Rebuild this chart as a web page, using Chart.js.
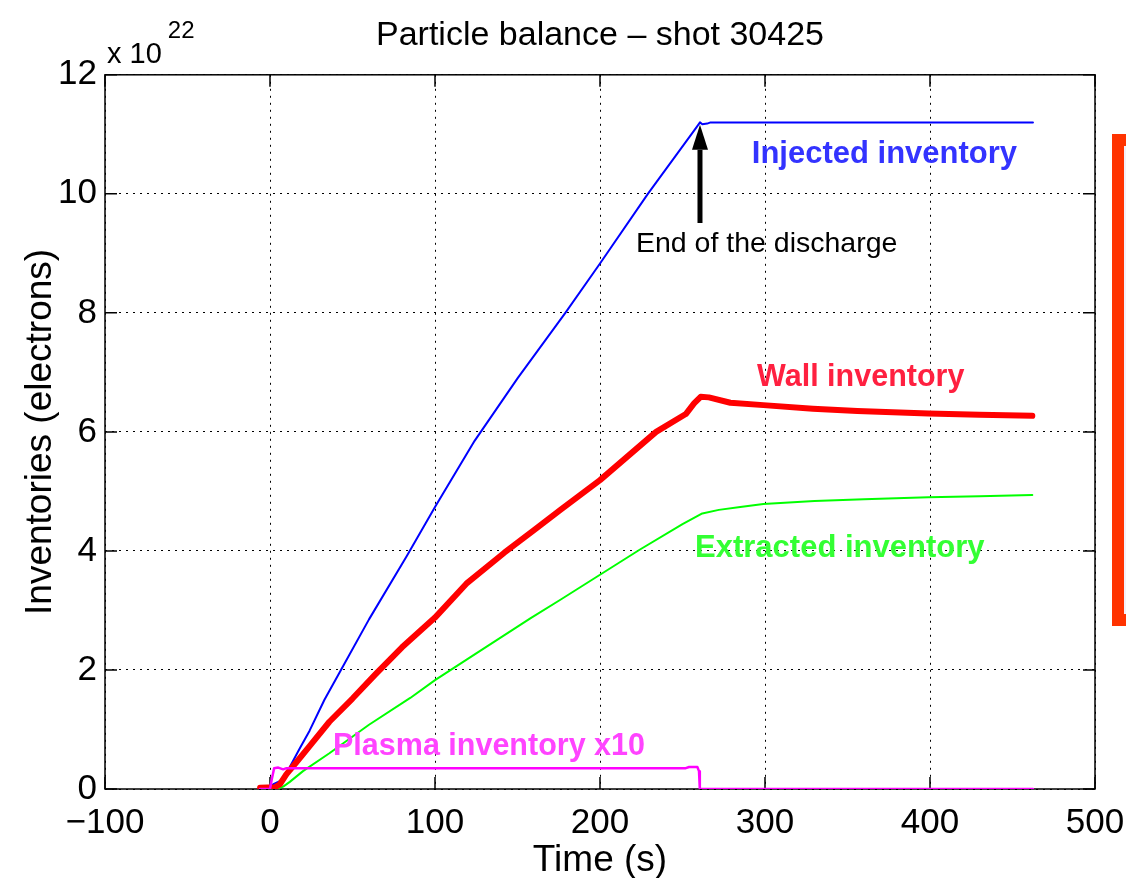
<!DOCTYPE html>
<html><head><meta charset="utf-8">
<script src="https://cdn.jsdelivr.net/npm/chart.js@4.4.1/dist/chart.umd.min.js"></script>
<style>html,body{margin:0;padding:0;background:#fff;}#wrap{width:1126px;height:878px;position:relative;}</style>
</head><body><div id="wrap"><canvas id="c" width="1126" height="878"></canvas></div>
<script>
// ---- data (time in s, inventories in 1e22 electrons) ----
const xTicks = [-100, 0, 100, 200, 300, 400, 500];
const yTicks = [0, 2, 4, 6, 8, 10, 12];

const injectedT = [-6, -1, 2, 6, 9, 12, 18, 24, 33, 43, 60, 83, 100, 124, 150, 179, 200, 229, 258, 260.6, 262, 265, 267, 462.4];
const injectedV = [0, 0, 0.08, 0.13, 0.2, 0.37, 0.68, 0.98, 1.5, 2.0, 2.85, 3.92, 4.74, 5.85, 6.9, 8.0, 8.83, 10.0, 11.1, 11.2, 11.17, 11.18, 11.2, 11.2];

const wallT = [-6, 3, 6, 10, 16, 24, 36, 50, 64, 80, 100, 119, 142, 160, 176, 200, 234, 252, 257, 261, 266, 279, 299, 329, 356, 399, 430, 462];
const wallV = [0.02, 0.03, 0.08, 0.25, 0.45, 0.72, 1.13, 1.52, 1.93, 2.38, 2.88, 3.45, 3.97, 4.35, 4.69, 5.19, 6.0, 6.3, 6.48, 6.59, 6.58, 6.49, 6.45, 6.39, 6.35, 6.31, 6.29, 6.27];

const extractedT = [4, 8, 12, 20, 36, 60, 85, 100, 125, 158, 176, 200, 224, 250, 262, 272, 285, 299, 330, 360, 399, 430, 462];
const extractedV = [0, 0.04, 0.12, 0.3, 0.6, 1.08, 1.53, 1.83, 2.28, 2.87, 3.18, 3.6, 4.02, 4.45, 4.63, 4.69, 4.74, 4.79, 4.84, 4.87, 4.9, 4.92, 4.94];

const plasmaT = [-6, 0, 1, 2.5, 5, 8, 10, 20, 100, 200, 252, 254, 259, 260, 260.5, 462.4];
const plasmaV = [0, 0, 0.15, 0.35, 0.36, 0.33, 0.35, 0.35, 0.35, 0.35, 0.35, 0.37, 0.37, 0.3, 0, 0];

const FONT = "'Liberation Sans', Arial, Helvetica, sans-serif";

const pts = (ts, vs) => ts.map((t, i) => ({x: t, y: vs[i]}));

const labels = [
  {text: 'Injected inventory', t: 292, v: 10.66, color: '#3333ff', size: 31, bold: true},
  {text: 'End of the discharge', t: 221.8, v: 9.16, color: '#000000', size: 28.5, bold: false},
  {text: 'Wall inventory', t: 295.2, v: 6.92, color: '#ff2040', size: 30.5, bold: true},
  {text: 'Extracted inventory', t: 257.6, v: 4.05, color: '#33ff33', size: 31, bold: true},
  {text: 'Plasma inventory x10', t: 38.2, v: 0.72, color: '#ff44ff', size: 30.5, bold: true}
];

const overlay = {
  id: 'overlay',
  beforeDatasetsDraw(chart) {
    const {ctx, chartArea: a, scales: {x, y}} = chart;
    ctx.save();
    ctx.strokeStyle = '#000';
    ctx.lineWidth = 1.5;
    ctx.setLineDash([]);
    ctx.strokeRect(a.left, a.top, a.right - a.left, a.bottom - a.top);
    ctx.beginPath();
    xTicks.forEach(v => {
      const px = x.getPixelForValue(v);
      ctx.moveTo(px, a.bottom); ctx.lineTo(px, a.bottom - 12);
      ctx.moveTo(px, a.top); ctx.lineTo(px, a.top + 12);
    });
    yTicks.forEach(v => {
      const py = y.getPixelForValue(v);
      ctx.moveTo(a.left, py); ctx.lineTo(a.left + 12, py);
      ctx.moveTo(a.right, py); ctx.lineTo(a.right - 12, py);
    });
    ctx.stroke();
    ctx.restore();
  },
  afterDatasetsDraw(chart) {
    const {ctx, chartArea: a, scales: {x, y}} = chart;
    ctx.save();
    ctx.textBaseline = 'middle';
    ctx.textAlign = 'left';
    labels.forEach(l => {
      ctx.font = (l.bold ? 'bold ' : '') + l.size + 'px ' + FONT;
      ctx.fillStyle = l.color;
      ctx.fillText(l.text, x.getPixelForValue(l.t), y.getPixelForValue(l.v));
    });
    // arrow marking end of discharge
    const ax = x.getPixelForValue(260.6);
    const tip = y.getPixelForValue(11.16), base = y.getPixelForValue(9.51), head = y.getPixelForValue(10.74);
    ctx.strokeStyle = '#000'; ctx.fillStyle = '#000'; ctx.lineWidth = 5;
    ctx.beginPath(); ctx.moveTo(ax, base); ctx.lineTo(ax, head); ctx.stroke();
    ctx.beginPath(); ctx.moveTo(ax, tip); ctx.lineTo(ax - 8, head); ctx.lineTo(ax + 8, head); ctx.closePath(); ctx.fill();
    // exponent
    ctx.textBaseline = 'alphabetic';
    ctx.fillStyle = '#000';
    ctx.font = '29px ' + FONT;
    const base1 = 'x 10';
    ctx.fillText(base1, a.left + 2, a.top - 12);
    const w = ctx.measureText(base1).width;
    ctx.font = '24px ' + FONT;
    ctx.fillText('22', a.left + 2 + w + 6, a.top - 37);
    ctx.restore();
  },
  afterDraw(chart) {
    const ctx = chart.ctx;
    ctx.save();
    ctx.fillStyle = '#ff3300';
    ctx.fillRect(1112, 134, 14, 492);
    ctx.fillStyle = '#f2f0fa';
    ctx.fillRect(1124, 146, 2, 468);
    ctx.restore();
  }
};

new Chart(document.getElementById('c'), {
  type: 'line',
  data: {
    datasets: [
      {label: 'Plasma inventory x10', data: pts(plasmaT, plasmaV), borderColor: '#ff00ff', borderWidth: 2.5},
      {label: 'Wall inventory', data: pts(wallT, wallV), borderColor: '#ff0000', borderWidth: 6},
      {label: 'Injected inventory', data: pts(injectedT, injectedV), borderColor: '#0000ff', borderWidth: 2},
      {label: 'Extracted inventory', data: pts(extractedT, extractedV), borderColor: '#00ff00', borderWidth: 2}
    ]
  },
  options: {
    responsive: false,
    animation: false,
    devicePixelRatio: 1,
    elements: {point: {radius: 0}, line: {tension: 0, borderJoinStyle: 'round', borderCapStyle: 'round'}},
    layout: {padding: {left: 0, right: 31, top: 0, bottom: 0}},
    plugins: {
      legend: {display: false},
      tooltip: {enabled: false},
      title: {
        display: true,
        fullSize: false,
        text: 'Particle balance \u2013 shot 30425',
        color: '#000',
        font: {family: FONT, size: 34, weight: 'normal'},
        padding: {top: 15, bottom: 19}
      }
    },
    scales: {
      x: {
        type: 'linear', min: -100, max: 500,
        afterBuildTicks: s => { s.ticks = xTicks.map(v => ({value: v})); },
        afterFit: s => { s.height = 89; s.paddingLeft = 0; s.paddingRight = 0; },
        grid: {color: '#000', lineWidth: 1, drawTicks: false},
        border: {display: false, dash: [2, 5]},
        ticks: {color: '#000', font: {family: FONT, size: 35}, padding: 13, maxRotation: 0,
          callback: v => String(v).replace('-', '\u2212')},
        title: {display: true, text: 'Time (s)', color: '#000', font: {family: FONT, size: 37}, padding: {top: 0, bottom: -5}}
      },
      y: {
        type: 'linear', min: 0, max: 12,
        afterBuildTicks: s => { s.ticks = yTicks.map(v => ({value: v})); },
        afterFit: s => { s.width = 105; s.paddingTop = 0; s.paddingBottom = 0; },
        grid: {color: '#000', lineWidth: 1, drawTicks: false},
        border: {display: false, dash: [2, 5]},
        ticks: {color: '#000', font: {family: FONT, size: 35}, padding: 8},
        title: {display: true, text: 'Inventories (electrons)', color: '#000', font: {family: FONT, size: 37}, padding: {top: 19, bottom: 0}}
      }
    }
  },
  plugins: [overlay]
});
</script></body></html>
